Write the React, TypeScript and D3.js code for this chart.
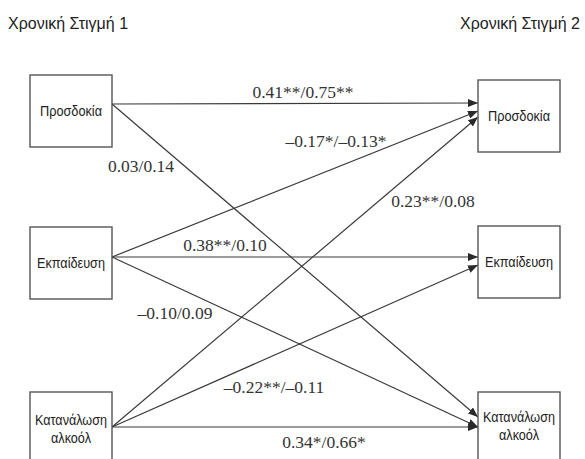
import React from "react";
import * as d3 from "d3";

// ---------- data ----------
const timeLabels = ["Χρονική Στιγμή 1", "Χρονική Στιγμή 2"];
const variables = [["Προσδοκία"], ["Εκπαίδευση"], ["Κατανάλωση", "αλκοόλ"]];
const pathFrom = [0, 0, 1, 1, 1, 2, 2, 2];
const pathTo = [0, 2, 0, 1, 2, 0, 1, 2];
const pathLabels = [
  "0.41**/0.75**",
  "0.03/0.14",
  "–0.17*/–0.13*",
  "0.38**/0.10",
  "–0.10/0.09",
  "0.23**/0.08",
  "–0.22**/–0.11",
  "0.34*/0.66*",
];

// ---------- layout ----------
const W = 585;
const H = 459;
const boxW = 82;
const boxH = 72;
const colX = d3.scaleOrdinal<number, number>().domain([0, 1]).range([30, 478]);
const boxTop = [
  [75, 227, 392],
  [80, 226, 392],
];
const outOffset = [29, 30, 35];
// inbound offsets per path (from right-box top)
const inOffset = [23, 25, 31, 31, 35, 37, 39, 35];
const labelPos: [number, number][] = [
  [303, 98],
  [141, 172],
  [336, 147],
  [225, 251],
  [175, 319],
  [433, 207],
  [274, 393],
  [324, 448],
];
const textWidths: Record<string, number> = {
  "Προσδοκία": 62,
  "Εκπαίδευση": 68,
  "Κατανάλωση": 72,
  "αλκοόλ": 40,
};

export default function App() {
  const line = d3.line<[number, number]>();
  return (
    <svg
      width={W}
      height={H}
      style={{ position: "absolute", left: 0, top: 0, background: "#fff" }}
    >
      <defs>
        <marker
          id="arr"
          viewBox="0 0 10 8"
          refX="10"
          refY="4"
          markerWidth="10"
          markerHeight="8"
          markerUnits="userSpaceOnUse"
          orient="auto"
        >
          <path d="M0,0 L10,4 L0,8 Z" fill="#2a2a2a" />
        </marker>
      </defs>

      {/* titles */}
      <text x={8} y={29} fontFamily="Liberation Sans, Arial, sans-serif" fontSize={16} fill="#222">
        {timeLabels[0]}
      </text>
      <text x={580} y={29} textAnchor="end" fontFamily="Liberation Sans, Arial, sans-serif" fontSize={16} fill="#222">
        {timeLabels[1]}
      </text>

      {/* paths */}
      {pathFrom.map((f, i) => {
        const t = pathTo[i];
        const x0 = colX(0) + boxW;
        const y0 = boxTop[0][f] + outOffset[f];
        const x1 = colX(1);
        const y1 = boxTop[1][t] + inOffset[i];
        return (
          <path
            key={"p" + i}
            d={line([[x0, y0], [x1, y1]]) || ""}
            stroke="#3a3a3a"
            strokeWidth={1.2}
            fill="none"
            markerEnd="url(#arr)"
          />
        );
      })}

      {/* boxes */}
      {[0, 1].map((c) =>
        variables.map((lines, r) => {
          const x = colX(c);
          const y = boxTop[c][r];
          const cx = x + boxW / 2;
          return (
            <g key={`b${c}-${r}`}>
              <rect x={x} y={y} width={boxW} height={boxH} fill="#fff" stroke="#555" strokeWidth={1.4} />
              {lines.map((s, k) => {
                const by =
                  lines.length === 1 ? y + 41 : y + (c === 0 ? 33 : 30) + k * 18;
                return (
                  <text
                    key={k}
                    x={cx}
                    y={by}
                    textAnchor="middle"
                    fontFamily="Liberation Sans, Arial, sans-serif"
                    fontSize={15}
                    fill="#222"
                    textLength={textWidths[s]}
                    lengthAdjust="spacingAndGlyphs"
                  >
                    {s}
                  </text>
                );
              })}
            </g>
          );
        })
      )}

      {/* labels */}
      {pathLabels.map((s, i) => (
        <text
          key={"l" + i}
          x={labelPos[i][0]}
          y={labelPos[i][1]}
          textAnchor="middle"
          fontFamily="Liberation Serif, Times New Roman, serif"
          fontSize={17.5}
          fill="#333"
        >
          {s}
        </text>
      ))}
    </svg>
  );
}
